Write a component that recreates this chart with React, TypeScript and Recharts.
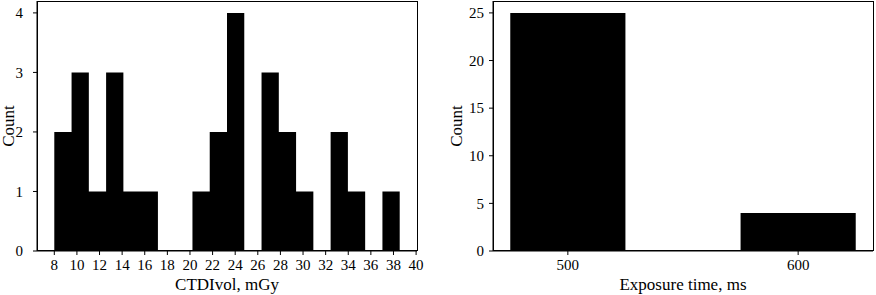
import React from "react";
import { ComposedChart, Area, XAxis, YAxis, Label } from "recharts";

// CTDIvol histogram: 20 bins between min and max value
const ctdiMin = 8.0;
const ctdiMax = 38.55;
const ctdiCounts = [2, 3, 1, 3, 1, 1, 0, 0, 1, 2, 4, 0, 3, 2, 1, 0, 2, 1, 0, 1];
const ctdiTicks = [8, 10, 12, 14, 16, 18, 20, 22, 24, 26, 28, 30, 32, 34, 36, 38, 40];
const countTicksLeft = [0, 1, 2, 3, 4];

// Exposure time histogram
const exposureEdges = [475, 525, 575, 625];
const exposureCounts = [25, 0, 4];
const exposureTicks = [500, 600];
const countTicksRight = [0, 5, 10, 15, 20, 25];

const font = "'Liberation Serif', 'Times New Roman', serif";

// step points for a histogram: each edge carries the count of the bin starting there
function stepData(edges: number[], counts: number[]) {
  const pts = edges.slice(0, counts.length).map((x, i) => ({ x, count: counts[i] }));
  pts.push({ x: edges[edges.length - 1], count: counts[counts.length - 1] });
  return pts;
}

const binWidth = (ctdiMax - ctdiMin) / ctdiCounts.length;
const ctdiEdges = Array.from({ length: ctdiCounts.length + 1 }, (_, i) => ctdiMin + i * binWidth);
const ctdiData = stepData(ctdiEdges, ctdiCounts);
const exposureData = stepData(exposureEdges, exposureCounts);

const tickStyle = { fill: "#000", fontSize: 15, fontFamily: font };
const labelStyle = { fontSize: 17, fontFamily: font, fill: "#000" };
const axisLine = { stroke: "#000", strokeWidth: 1 };

// matplotlib-style box around the plot area
function Frame({ left, width }: { left: number; width: number }) {
  return (
    <div
      style={{
        position: "absolute",
        left,
        top: 1,
        width,
        height: 250,
        border: "1px solid #000",
        boxSizing: "border-box",
        pointerEvents: "none",
      }}
    />
  );
}

export default function App() {
  return (
    <div style={{ position: "absolute", left: 0, top: 0, width: 876, height: 295, background: "#fff" }}>
      <div style={{ position: "absolute", left: 0, top: 0 }}>
        <ComposedChart width={440} height={295} data={ctdiData} margin={{ top: 1, right: 23, bottom: 0, left: 0 }}>
          <XAxis
            dataKey="x"
            type="number"
            domain={[6.47, 40.08]}
            ticks={ctdiTicks}
            allowDataOverflow
            height={44}
            tick={tickStyle}
            tickSize={4}
            tickMargin={4}
            axisLine={axisLine}
            tickLine={axisLine}
          >
            <Label value="CTDIvol, mGy" position="insideBottom" offset={5} style={labelStyle} />
          </XAxis>
          <YAxis
            type="number"
            domain={[0, 4.2]}
            ticks={countTicksLeft}
            width={37}
            tick={tickStyle}
            tickSize={4}
            tickMargin={10}
            axisLine={axisLine}
            tickLine={axisLine}
          >
            <Label value="Count" angle={-90} position="insideLeft" offset={8} style={{ ...labelStyle, textAnchor: "middle" }} />
          </YAxis>
          <Area
            dataKey="count"
            type="stepAfter"
            fill="#000"
            fillOpacity={1}
            stroke="none"
            isAnimationActive={false}
            dot={false}
            activeDot={false}
          />
        </ComposedChart>
        <Frame left={37} width={381} />
      </div>
      <div style={{ position: "absolute", left: 440, top: 0 }}>
        <ComposedChart width={436} height={295} data={exposureData} margin={{ top: 1, right: 3, bottom: 0, left: 0 }}>
          <XAxis
            dataKey="x"
            type="number"
            domain={[467.5, 632.5]}
            ticks={exposureTicks}
            allowDataOverflow
            height={44}
            tick={tickStyle}
            tickSize={4}
            tickMargin={4}
            axisLine={axisLine}
            tickLine={axisLine}
          >
            <Label value="Exposure time, ms" position="insideBottom" offset={5} style={labelStyle} />
          </XAxis>
          <YAxis
            type="number"
            domain={[0, 26.25]}
            ticks={countTicksRight}
            width={53}
            tick={tickStyle}
            tickSize={4}
            tickMargin={5}
            axisLine={axisLine}
            tickLine={axisLine}
          >
            <Label value="Count" angle={-90} position="insideLeft" offset={16} style={{ ...labelStyle, textAnchor: "middle" }} />
          </YAxis>
          <Area
            dataKey="count"
            type="stepAfter"
            fill="#000"
            fillOpacity={1}
            stroke="none"
            isAnimationActive={false}
            dot={false}
            activeDot={false}
          />
        </ComposedChart>
        <Frame left={53} width={381} />
      </div>
    </div>
  );
}
